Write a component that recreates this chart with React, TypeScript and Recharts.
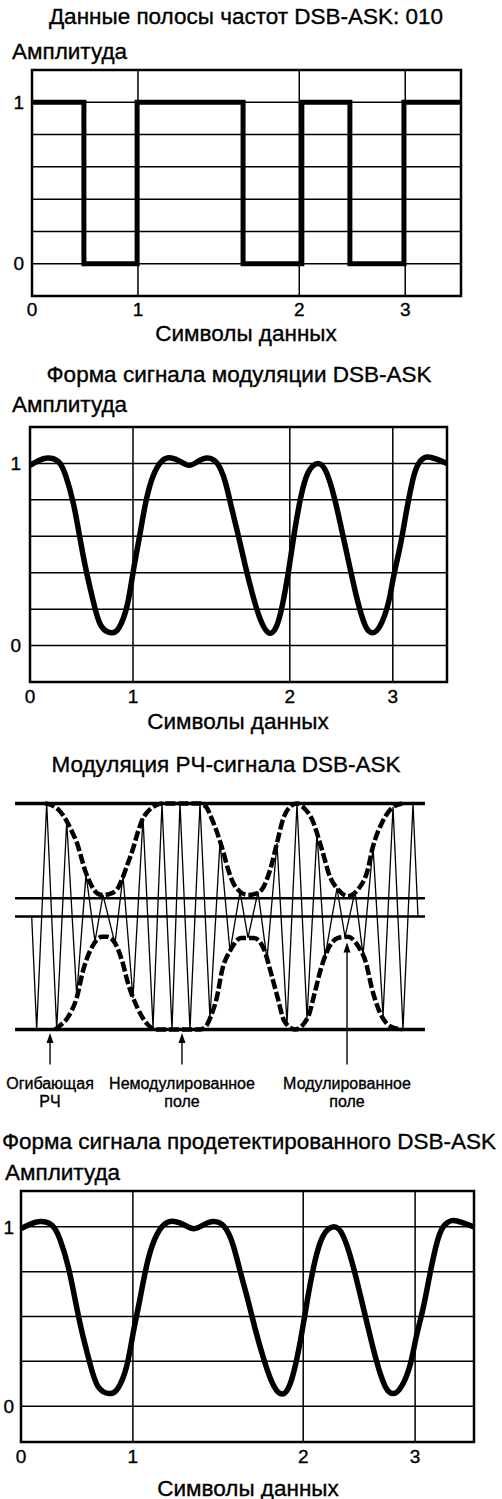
import React from 'react'
import { LineChart, Line, XAxis, YAxis, CartesianGrid, ReferenceArea, ReferenceLine } from 'recharts'

const FONT = '"Liberation Sans", Arial, sans-serif'

// symbol axis is hand drawn and uneven, so positions are in % of the plot width
const symbolTicks = [0, 24.7, 62.3, 87.0]
const symbolLabels = ['0', '1', '2', '3']

const ampTicksFifths = [-0.2, 0, 0.2, 0.4, 0.6, 0.8, 1, 1.2]
const ampTicksQuarters = [-0.2, 0, 0.25, 0.5, 0.75, 1, 1.2]

// baseband data 010 (NRZ, drawn as steps)
const basebandT = [0, 12.1, 24.5, 49.2, 62.9, 74.1, 86.7, 100]
const basebandLevel = [1, 0, 1, 0, 1, 0, 1, 1]

// filtered baseband / detected waveform
const shapedT = [
  0, 2.0, 4.2, 6.8, 8.6, 10.4, 11.9, 13.4, 15.2, 17.0, 19.5, 21.4, 23.3, 24.7, 26.2, 27.7, 29.5,
  31.7, 33.9, 36.1, 38.2, 40.2, 42.5, 44.9, 46.8, 48.3, 50.0, 51.6, 53.5, 55.3, 57.2, 59.0, 60.5,
  62.0, 63.4, 64.9, 66.7, 69.1, 71.1, 73.0, 74.8, 76.7, 78.5, 80.4, 82.2, 84.0, 85.9, 87.2, 88.8,
  90.3, 91.8, 93.2, 95.1, 97.3, 100,
]
const shapedAmp = [
  0.99, 1.015, 1.03, 1.01, 0.93, 0.78, 0.6, 0.42, 0.24, 0.11, 0.07, 0.1, 0.22, 0.4, 0.59, 0.78, 0.93,
  1.015, 1.03, 1.01, 0.99, 1.01, 1.03, 1.0, 0.9, 0.76, 0.6, 0.44, 0.27, 0.14, 0.07, 0.1, 0.22,
  0.41, 0.62, 0.81, 0.95, 1.0, 0.95, 0.81, 0.63, 0.43, 0.25, 0.11, 0.07, 0.11, 0.23, 0.38, 0.55,
  0.74, 0.91, 1.0, 1.035, 1.025, 1.0,
]

// RF carrier (zigzag vertices), % of the drawing width
const rfT = [
  4.07, 5.29, 7.73, 10.17, 12.61, 15.05, 17.32, 19.51, 21.46, 24.39, 26.34, 28.78, 31.22, 33.66,
  35.85, 38.29, 40.24, 42.68, 45.12, 47.56, 50.0, 52.44, 54.88, 56.83, 59.27, 61.46, 63.9, 66.34,
  68.78, 71.22, 73.66, 75.61, 78.54, 80.49, 82.93, 84.88, 87.32, 89.76, 92.2, 94.63, 97.07, 98.29,
]
const rfAmp = [
  0, -1, 1, -1, 0.84, -0.7, 0.37, -0.22, 0.19, -0.24, 0.36, -0.72, 0.87, -0.98,
  1, -1, 1, -1, 1, -0.9, 0.66, -0.31, 0.22, -0.19, 0.22, -0.38, 0.65, -0.95,
  1, -0.9, 0.74, -0.36, 0.25, -0.18, 0.22, -0.34, 0.62, -0.88, 0.97, -1, 1, 0,
]

const envUpperT = [
  7.32, 9.27, 10.98, 12.68, 13.9, 15.12, 16.1, 17.07, 18.05, 19.02, 20.24, 21.46, 23.17, 24.88,
  26.1, 27.32, 28.78, 30.0, 30.98, 32.44, 34.15, 35.85, 45.12, 46.59, 48.05, 49.51, 50.73, 51.95,
  53.17, 54.88, 56.83, 58.54, 60.24, 62.2, 63.9, 65.37, 67.07, 68.78, 70.49, 72.44, 74.88, 76.83,
  78.78, 81.22, 83.66, 85.85, 87.32, 89.51, 91.95, 94.39,
]
const envUpperAmp = [
  1.0, 0.98, 0.93, 0.84, 0.75, 0.65, 0.53, 0.41, 0.32, 0.25, 0.2, 0.19, 0.2, 0.24,
  0.33, 0.45, 0.6, 0.75, 0.85, 0.93, 0.98, 1.0, 1.0, 0.97, 0.86, 0.72, 0.58, 0.42,
  0.3, 0.22, 0.19, 0.2, 0.24, 0.41, 0.65, 0.86, 0.97, 1.0, 0.96, 0.86, 0.59, 0.35,
  0.24, 0.18, 0.24, 0.39, 0.62, 0.83, 0.96, 1.0,
]
const envLowerT = [
  9.76, 10.98, 12.93, 15.12, 16.59, 18.78, 21.22, 22.44, 23.9, 26.1, 27.56, 29.76, 32.2, 34.63,
  45.12, 46.59, 47.8, 49.27, 50.49, 52.68, 55.12, 58.29, 60.73, 62.44, 64.15, 65.61, 68.29,
  71.46, 72.93, 74.63, 76.34, 78.78, 81.22, 83.66, 85.61, 87.07, 88.78, 91.46, 94.39,
]
const envLowerAmp = [
  -1.0, -0.965, -0.89, -0.71, -0.48, -0.27, -0.18, -0.18, -0.21, -0.39, -0.59, -0.8, -0.95, -1.0,
  -1.0, -0.97, -0.88, -0.71, -0.48, -0.29, -0.19, -0.19, -0.29, -0.5, -0.73, -0.92, -1.0,
  -0.89, -0.7, -0.46, -0.29, -0.19, -0.18, -0.26, -0.41, -0.64, -0.83, -0.97, -1.0,
]
const rfLevels = [1, 0.162, 0, -1]

const arrowX = [8.54, 40.73, 80.98]
const arrowTip = [-1.03, -1.03, -0.23]
const arrowTail = -1.31
const arrowLabels = [
  ['Огибающая', 'РЧ'],
  ['Немодулированное', 'поле'],
  ['Модулированное', 'поле'],
]

const zip = (t: number[], v: number[]) => t.map((x, i) => ({ x, y: v[i] }))

const basebandData = zip(basebandT, basebandLevel)
const shapedData = zip(shapedT, shapedAmp)
const rfData = zip(rfT, rfAmp)
const envUpperData = zip(envUpperT, envUpperAmp)
const envLowerData = zip(envLowerT, envLowerAmp)

function Txt({ x, y, size = 22.5, left = false, children }: any) {
  return (
    <div
      style={{
        position: 'absolute',
        left: x,
        top: y,
        transform: left ? 'translate(0,-50%)' : 'translate(-50%,-50%)',
        fontSize: size,
        fontFamily: FONT,
        whiteSpace: 'nowrap',
        lineHeight: 1,
        color: '#000',
        WebkitTextStroke: '0.35px #000',
      }}
    >
      {children}
    </div>
  )
}

const symbolLabel = (v: number) => {
  const i = symbolTicks.indexOf(v)
  return i >= 0 ? symbolLabels[i] : ''
}
const ampLabel = (v: number) => (v === 0 ? '0' : v === 1 ? '1' : '')

const tickStyle = { fontSize: 19, fill: '#000', fontFamily: FONT, stroke: '#000', strokeWidth: 0.35 }

function GridChart({ top, width, height, yWidth, yTicks, yMargin, xMargin, children }: any) {
  return (
    <div style={{ position: 'absolute', left: 0, top }}>
      <LineChart width={width} height={height} margin={{ top: 10, right: 10, bottom: 0, left: 0 }}>
        <CartesianGrid stroke="#000" strokeWidth={1.5} />
        <XAxis
          type="number"
          dataKey="x"
          domain={[0, 100]}
          ticks={symbolTicks}
          interval={0}
          tickFormatter={symbolLabel}
          axisLine={false}
          tickLine={false}
          tickMargin={xMargin}
          height={30}
          tick={tickStyle}
        />
        <YAxis
          type="number"
          domain={[-0.2, 1.2]}
          ticks={yTicks}
          interval={0}
          tickFormatter={ampLabel}
          axisLine={false}
          tickLine={false}
          tickMargin={yMargin}
          width={yWidth}
          tick={tickStyle}
        />
        <ReferenceArea x1={0} x2={100} y1={-0.2} y2={1.2} fill="none" stroke="#000" strokeWidth={2.5} ifOverflow="visible" />
        {children}
      </LineChart>
    </div>
  )
}

const ArrowShape = (props: any) => {
  const { x1, y1, x2, y2 } = props
  return (
    <g>
      <line x1={x1} y1={y1} x2={x2} y2={y2 + 8} stroke="#000" strokeWidth={1.4} />
      <polygon points={`${x2},${y2} ${x2 - 3.5},${y2 + 10} ${x2 + 3.5},${y2 + 10}`} fill="#000" />
    </g>
  )
}

export default function App() {
  return (
    <div style={{ position: 'absolute', left: 0, top: 0, width: 502, height: 1499, background: '#fff' }}>
      {/* 1: baseband data */}
      <Txt x={246} y={17}>Данные полосы частот DSB-ASK: 010</Txt>
      <Txt x={12} y={52} left>Амплитуда</Txt>
      <GridChart top={60} width={471} height={266} yWidth={32} yTicks={ampTicksFifths} yMargin={2} xMargin={1}>
        <Line
          data={basebandData}
          dataKey="y"
          type="stepAfter"
          stroke="#000"
          strokeWidth={5}
          dot={false}
          isAnimationActive={false}
        />
      </GridChart>
      <Txt x={246} y={334}>Символы данных</Txt>

      {/* 2: modulation waveform */}
      <Txt x={239} y={375}>Форма сигнала модуляции DSB-ASK</Txt>
      <Txt x={12} y={405} left>Амплитуда</Txt>
      <GridChart top={417} width={457} height={295} yWidth={30} yTicks={ampTicksFifths} yMargin={3} xMargin={2}>
        <Line data={shapedData} dataKey="y" type="natural" stroke="#000" strokeWidth={5.5} dot={false} isAnimationActive={false} />
      </GridChart>
      <Txt x={238} y={722}>Символы данных</Txt>

      {/* 3: RF modulation */}
      <Txt x={226} y={765}>Модуляция РЧ-сигнала DSB-ASK</Txt>
      <div style={{ position: 'absolute', left: 0, top: 790 }}>
        <LineChart width={435} height={280} margin={{ top: 0, right: 10, bottom: 0, left: 15 }}>
          <XAxis type="number" dataKey="x" domain={[0, 100]} hide />
          <YAxis type="number" domain={[-1.358, 1.119]} hide />
          {rfLevels.map((v) => (
            <ReferenceLine key={v} y={v} stroke="#000" strokeWidth={v === 1 || v === -1 ? 3.5 : 2.5} />
          ))}
          <Line data={rfData} dataKey="y" type="linear" stroke="#000" strokeWidth={1.3} dot={false} isAnimationActive={false} />
          <Line
            data={envUpperData}
            dataKey="y"
            type="monotone"
            stroke="#000"
            strokeWidth={4.5}
            strokeDasharray="10 3"
            dot={false}
            isAnimationActive={false}
          />
          <Line
            data={envLowerData}
            dataKey="y"
            type="monotone"
            stroke="#000"
            strokeWidth={4.5}
            strokeDasharray="10 3"
            dot={false}
            isAnimationActive={false}
          />
          {arrowX.map((ax, i) => (
            <ReferenceLine
              key={ax}
              segment={[
                { x: ax, y: arrowTail },
                { x: ax, y: arrowTip[i] },
              ]}
              shape={ArrowShape}
            />
          ))}
        </LineChart>
      </div>
      {arrowLabels.map((lines, i) => (
        <React.Fragment key={lines[0]}>
          <Txt x={15 + arrowX[i] * 4.1} y={1084} size={16}>{lines[0]}</Txt>
          <Txt x={15 + arrowX[i] * 4.1} y={1102} size={16}>{lines[1]}</Txt>
        </React.Fragment>
      ))}

      {/* 4: detected waveform */}
      <Txt x={249} y={1142}>Форма сигнала продетектированного DSB-ASK</Txt>
      <Txt x={5} y={1173} left>Амплитуда</Txt>
      <GridChart top={1181} width={484} height={291} yWidth={21} yTicks={ampTicksQuarters} yMargin={1} xMargin={2}>
        <Line data={shapedData} dataKey="y" type="natural" stroke="#000" strokeWidth={5.5} dot={false} isAnimationActive={false} />
      </GridChart>
      <Txt x={248} y={1489}>Символы данных</Txt>
    </div>
  )
}
